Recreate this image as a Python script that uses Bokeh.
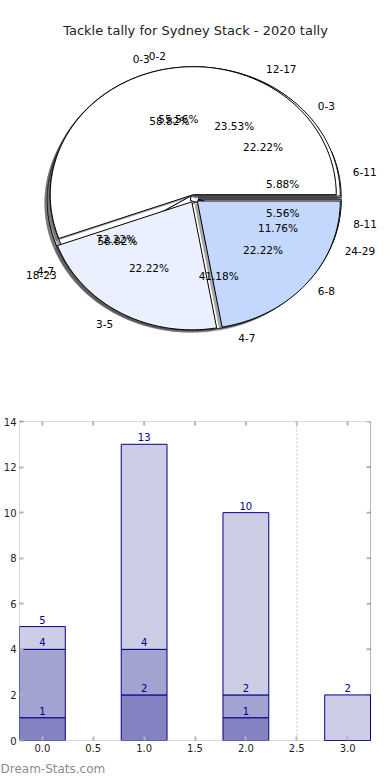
import numpy as np
from bokeh.plotting import figure
from bokeh.models import (Range1d, LinearAxis, Span, Title, FixedTicker,
                          PrintfTickFormatter, ColumnDataSource, BoxAnnotation)
from bokeh.layouts import column
from bokeh.embed import file_html
from bokeh.resources import INLINE
from bokeh.core.properties import value

# ---------------- data ----------------
title_text = "Tackle tally for Sydney Stack - 2020 tally"
watermark = "Dream-Stats.com"

# pies, listed from the bottom-most to the top-most
pie_a_labels = ["6-11", "12-17", "18-23", "24-29"]
pie_a_values = [1, 4, 10, 2]
pie_b_labels = ["0-3", "4-7", "8-11"]
pie_b_values = [4, 13, 1]
pie_c_labels = ["0-3", "4-7"]
pie_c_values = [10, 7]
pie_d_labels = ["0-2", "3-5", "6-8"]
pie_d_values = [10, 4, 4]

top_pie_colors = ["#ffffff", "#eaf0fd", "#c4d7fc"]

# stacked bars
bar_x = [0, 1, 2, 3]
layer_1 = [1, 2, 1, 0]
layer_2 = [3, 2, 1, 0]
layer_3 = [1, 9, 8, 2]
layer_colors = ["#8482c1", "#a3a3d1", "#cdcde5"]
x_ticks = [0.0, 0.5, 1.0, 1.5, 2.0, 2.5, 3.0]
y_ticks = [0, 2, 4, 6, 8, 10, 12, 14]

FONT = value("DejaVu Sans")

# ---------------- layout constants ----------------
W = 390
H1 = 390
H2 = 390
BORDER_L = 19
BORDER_R = 0
FRAME_RIGHT_VISIBLE = 370   # where the bar chart's box ends

# ---------------- pie figure ----------------
RX, RY = 143.0, 128.0      # pixel radius of the (squashed) pie
CXP, CYP = 193.5, 198.0    # pie centre, pixels from the figure's top-left
TITLE_Y = 30.0
FL, FR = BORDER_L, W - BORDER_R
p1 = figure(width=W, height=H1, output_backend="svg", toolbar_location=None,
            x_range=Range1d((FL - CXP) / RX, (FR - CXP) / RX),
            y_range=Range1d(-(H1 - CYP) / RY, CYP / RY),
            min_border_left=BORDER_L, min_border_right=BORDER_R,
            min_border_top=0, min_border_bottom=0,
            x_axis_location=None, y_axis_location=None)
p1.grid.visible = False
p1.outline_line_color = None
p1.background_fill_color = "white"
p1.border_fill_color = "white"

EXPLODE = 0.03
SHADOW = 0.02


def pie_geometry(values):
    v = np.asarray(values, dtype=float)
    edges = np.concatenate([[0.0], np.cumsum(v)]) / v.sum() * 2 * np.pi
    xs, ys, mids, centres = [], [], [], []
    for t0, t1 in zip(edges[:-1], edges[1:]):
        mid = 0.5 * (t0 + t1)
        cx, cy = EXPLODE * np.cos(mid), EXPLODE * np.sin(mid)
        n = max(3, int(np.degrees(t1 - t0)) + 2)
        t = np.linspace(t0, t1, n)
        xs.append(np.concatenate([[cx], cx + np.cos(t), [cx]]))
        ys.append(np.concatenate([[cy], cy + np.sin(t), [cy]]))
        mids.append(mid)
        centres.append((cx, cy))
    return xs, ys, mids, centres, v


left_lab = dict(x=[], y=[], text=[])
right_lab = dict(x=[], y=[], text=[])
pct_lab = dict(x=[], y=[], text=[])


def draw_pie(labels, values, colors):
    xs, ys, mids, centres, v = pie_geometry(values)
    p1.patches([x - SHADOW for x in xs], [y - SHADOW for y in ys],
               fill_color="#4d4d4d", fill_alpha=0.5, line_color=None)
    p1.patches(xs, ys, fill_color=colors, line_color="black", line_width=1)
    for lab, val, mid, (cx, cy) in zip(labels, v, mids, centres):
        tgt = left_lab if np.cos(mid) > 0 else right_lab
        tgt["x"].append(cx + 1.1 * np.cos(mid))
        tgt["y"].append(cy + 1.1 * np.sin(mid))
        tgt["text"].append(lab)
        pct_lab["x"].append(cx + 0.6 * np.cos(mid))
        pct_lab["y"].append(cy + 0.6 * np.sin(mid))
        pct_lab["text"].append("%.2f%%" % (100.0 * val / v.sum()))


for labs, vals, cols in [
    (pie_a_labels, pie_a_values, ["#ffffff"] * len(pie_a_values)),
    (pie_b_labels, pie_b_values, ["#ffffff"] * len(pie_b_values)),
    (pie_c_labels, pie_c_values, ["#ffffff"] * len(pie_c_values)),
    (pie_d_labels, pie_d_values, top_pie_colors),
]:
    draw_pie(labs, vals, cols)

for src, align in [(left_lab, "left"), (right_lab, "right"), (pct_lab, "center")]:
    p1.text(x="x", y="y", text="text", source=ColumnDataSource(src),
            text_align=align, text_baseline="middle", text_font=FONT,
            text_font_size="10.5px", text_color="black")

p1.text(x=[(W / 2 - CXP) / RX], y=[(CYP - TITLE_Y) / RY], text=[title_text],
        text_align="center", text_baseline="middle", text_font=FONT,
        text_font_size="13px", text_color="#222222")

# ---------------- bar figure ----------------
X0, X1 = -0.225, 3.225
Y0, Y1 = 0, y_ticks[-1]
PX_PER_UNIT = (FRAME_RIGHT_VISIBLE - BORDER_L) / (X1 - X0)
X_END = X0 + (W - BORDER_R - BORDER_L) / PX_PER_UNIT
p2 = figure(width=W, height=H2, output_backend="svg", toolbar_location=None,
            x_range=Range1d(X0, X_END), y_range=Range1d(Y0, Y1),
            min_border_left=BORDER_L, min_border_right=BORDER_R, min_border_top=31,
            min_border_bottom=0, x_axis_location=None, y_axis_location=None)
p2.grid.visible = False
p2.outline_line_color = None
p2.border_fill_color = "white"

TICK_COLOR = "#b5b5b5"


def make_axis(ticks, fmt=None):
    ax = LinearAxis(ticker=FixedTicker(ticks=ticks))
    ax.axis_line_color = None
    ax.major_tick_in = 4
    ax.major_tick_out = 0
    ax.major_tick_line_color = TICK_COLOR
    ax.major_tick_line_width = 2
    ax.minor_tick_line_color = None
    ax.major_label_text_font = "DejaVu Sans"
    ax.major_label_text_color = "#222222"
    ax.major_label_text_font_size = "10px"
    ax.major_label_standoff = 3
    if fmt is not None:
        ax.formatter = fmt
    return ax


p2.add_layout(make_axis(x_ticks, PrintfTickFormatter(format="%.1f")), "below")
p2.add_layout(make_axis(y_ticks), "left")

# inner tick marks on the top and right edges of the box
p2.ray(x=x_ticks, y=[Y1] * len(x_ticks), length=4, length_units="screen",
       angle=-np.pi / 2, line_color=TICK_COLOR, line_width=2)
p2.ray(x=[X1] * len(y_ticks), y=y_ticks, length=4, length_units="screen",
       angle=np.pi, line_color=TICK_COLOR, line_width=2)

p2.add_layout(Span(location=2.5, dimension="height", line_color="#c8c8c8",
                   line_dash="2 2", line_width=1))

b1 = np.asarray(layer_1, dtype=float)
b2 = b1 + np.asarray(layer_2, dtype=float)
b3 = b2 + np.asarray(layer_3, dtype=float)
bottoms = [np.zeros_like(b1), b1, b2]
tops = [b1, b2, b3]
layers = [layer_1, layer_2, layer_3]
for bot, top, col in zip(bottoms, tops, layer_colors):
    p2.vbar(x=bar_x, width=0.45, bottom=bot, top=top, fill_color=col,
            line_color="#00008b", line_width=1)

tx, ty, tt = [], [], []
for lay, top in zip(layers, tops):
    for xi, val, tp in zip(bar_x, lay, top):
        if val > 0:
            tx.append(xi)
            ty.append(tp)
            tt.append("%d" % tp)
p2.text(x=tx, y=ty, text=tt, text_align="center", text_baseline="middle",
        y_offset=-7, text_font=FONT, text_font_size="10px", text_color="#00008b")

# the axes box (matplotlib-style spines)
p2.add_layout(BoxAnnotation(left=X0, right=X1, bottom=Y0, top=Y1,
                            fill_alpha=0, line_color="black", line_width=1))

p2.add_layout(Title(text=watermark, align="left", text_font_size="12px",
                    text_color="#8c8c8c", text_font_style="normal",
                    text_font="DejaVu Sans", offset=-BORDER_L), "below")

layout = column(p1, p2)
open("out.html", "w").write(file_html(layout, INLINE))
